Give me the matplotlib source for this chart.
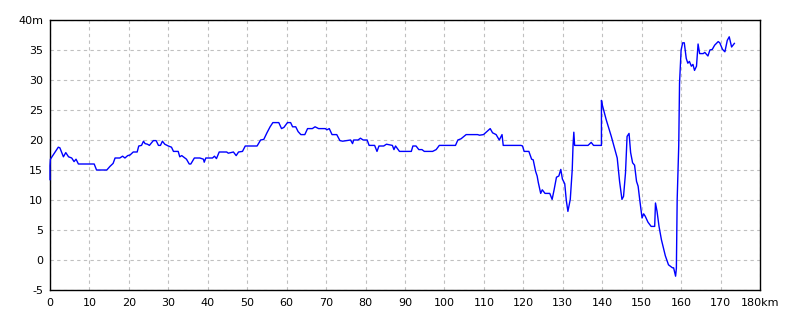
import numpy as np
import matplotlib.pyplot as plt

# distance (km) and elevation (m)
km = [0.0, 0.0, 0.1, 2.1, 2.5, 3.4, 4.0, 4.7, 5.5, 6.1, 6.6, 7.2, 11.2, 11.8, 14.4,
      15.2, 16.0, 16.5, 17.7, 18.4, 19.0, 19.7, 20.3, 21.1, 22.1, 22.5, 23.2, 23.7,
      24.1, 24.7, 25.2, 26.2, 26.9, 27.5, 28.0, 28.5, 29.1, 30.0, 30.8, 31.3, 32.5,
      32.9, 33.4, 34.2, 34.6, 35.3, 35.7, 36.6, 38.0, 38.9, 39.1, 39.5, 41.2, 41.7,
      42.2, 42.9, 44.8, 45.2, 46.5, 47.2, 47.8, 48.8, 49.5, 52.5, 53.4, 54.2, 55.0,
      55.8, 56.5, 58.0, 58.7, 59.3, 60.2, 61.0, 61.5, 62.3, 62.9, 63.6, 64.6, 65.3,
      66.5, 67.2, 68.1, 69.8, 70.2, 70.8, 71.5, 72.7, 73.5, 74.2, 76.2, 76.7, 77.0,
      78.1, 78.7, 79.4, 80.4, 80.9, 82.3, 82.9, 83.4, 84.6, 85.3, 86.8, 87.2, 87.6,
      88.6, 91.6, 92.0, 92.8, 93.5, 94.3, 94.9, 97.0, 97.9, 98.7, 102.8, 103.4,
      104.2, 105.5, 108.4, 108.9, 109.9, 111.6, 112.2, 113.1, 113.9, 114.6, 114.9,
      119.4, 119.8, 120.2, 121.4, 122.1, 122.5, 123.1, 123.5, 123.8, 124.4, 124.8,
      125.5, 126.7, 127.3, 127.8, 128.4, 129.0, 129.5, 129.9, 130.5, 130.9, 131.3,
      131.9, 132.4, 132.6, 132.8, 133.0, 136.4, 137.2, 137.8, 139.8, 139.8, 140.0,
      141.0, 142.3, 143.2, 143.8, 144.4, 145.0, 145.4, 145.9, 146.3, 146.8, 147.2,
      147.7, 148.2, 148.7, 149.1, 149.5, 150.1, 150.5, 150.9, 151.6, 152.4, 153.3,
      153.5, 153.9, 154.4, 155.0, 156.0, 156.8, 157.8, 158.1, 158.6, 158.8, 159.0,
      159.4, 159.6, 160.0, 160.4, 160.8, 161.3, 161.7, 162.1, 162.6, 163.0, 163.4,
      163.9, 164.3, 164.7, 165.6, 166.0, 166.8, 167.3, 167.9, 168.5, 169.4, 169.8,
      170.5, 171.1, 171.7, 172.2, 172.8, 173.5]
elev = [13.4, 15.7, 16.8, 18.8, 18.7, 17.2, 17.9, 17.2, 17.0, 16.4, 16.8, 16.0, 16.0,
        15.0, 15.0, 15.6, 16.1, 17.0, 17.0, 17.3, 17.0, 17.4, 17.5, 18.0, 18.0, 19.0,
        19.1, 19.8, 19.4, 19.3, 19.1, 19.9, 19.9, 19.1, 19.1, 19.8, 19.3, 19.0, 18.8,
        18.1, 18.1, 17.2, 17.4, 17.0, 16.8, 16.0, 16.0, 17.0, 17.0, 16.8, 16.3, 17.0,
        17.0, 17.3, 16.9, 18.0, 18.0, 17.8, 18.0, 17.4, 18.0, 18.1, 19.0, 19.0, 20.0,
        20.1, 21.2, 22.2, 22.9, 22.9, 21.9, 22.1, 22.9, 22.9, 22.2, 22.2, 21.4, 20.9,
        20.9, 21.9, 21.9, 22.2, 21.9, 21.9, 21.7, 21.9, 20.9, 20.9, 19.9, 19.8, 20.0,
        19.4, 20.0, 20.0, 20.3, 20.0, 20.0, 19.1, 19.1, 18.1, 19.0, 19.0, 19.3, 19.1,
        18.4, 19.0, 18.1, 18.1, 19.0, 19.0, 18.4, 18.4, 18.1, 18.1, 18.4, 19.1, 19.1,
        20.0, 20.2, 20.9, 20.9, 20.8, 20.9, 21.9, 21.2, 20.9, 20.0, 20.9, 19.1, 19.1,
        19.0, 18.1, 18.1, 16.8, 16.7, 14.8, 14.0, 12.9, 11.1, 11.7, 11.1, 11.1, 10.1,
        11.7, 13.8, 14.0, 15.1, 13.5, 12.7, 9.9, 8.1, 10.1, 15.1, 19.1, 21.3, 19.1,
        19.1, 19.6, 19.1, 19.1, 26.6, 25.9, 23.4, 20.6, 18.4, 17.0, 13.1, 10.1, 10.6,
        14.5, 20.6, 21.1, 17.9, 16.2, 15.8, 13.1, 12.3, 10.1, 7.0, 7.7, 7.3, 6.3, 5.6,
        5.6, 9.5, 8.1, 5.6, 3.4, 0.7, -0.8, -1.3, -1.3, -2.7, -1.4, 10.0, 19.1, 29.5,
        35.0, 36.2, 36.2, 33.6, 32.8, 33.1, 32.3, 32.6, 31.6, 32.3, 36.0, 34.4, 34.4,
        34.6, 34.0, 35.0, 35.1, 35.8, 36.4, 36.2, 35.1, 34.7, 36.6, 37.2, 35.5, 36.1]

x_ticks = list(range(0, 181, 10))
x_labels = [str(v) for v in x_ticks[:-1]] + ['180km']
y_ticks = list(range(-5, 41, 5))
y_labels = [str(v) for v in y_ticks[:-1]] + ['40m']

fig = plt.figure(figsize=(8, 3.2), dpi=100)
ax = fig.add_axes([0.0625, 0.09375, 0.8875, 0.84375])

# line sits on top of the frame, like the original
ax.plot(km, elev, color='#0000ff', linewidth=1.0, zorder=3, clip_on=False)

ax.set_xlim(0, 180)
ax.set_ylim(-5, 40)
ax.set_xticks(x_ticks)
ax.set_xticklabels(x_labels)
ax.set_yticks(y_ticks)
ax.set_yticklabels(y_labels)
ax.tick_params(length=0, labelsize=8, colors='black')
ax.tick_params(axis='x', pad=6)
ax.tick_params(axis='y', pad=5)
ax.grid(True, color='#c0c0c0', linestyle=(0, (3, 3)), linewidth=0.8)
for s in ax.spines.values():
    s.set_linewidth(1.0)
    s.set_color('black')

fig.savefig('out.png', dpi=100)
